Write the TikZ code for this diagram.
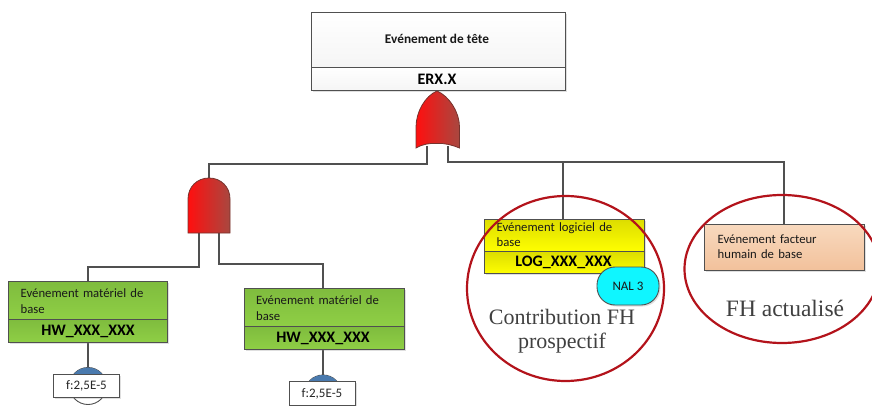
\documentclass[tikz,border=0pt]{standalone}
\usepackage{fontspec}
\setmainfont{Carlito}
\newfontfamily\serifface{Liberation Serif}
\usetikzlibrary{shadows,calc,shapes.geometric}
\definecolor{wire}{HTML}{505050}
\definecolor{ringred}{HTML}{B3131B}
\definecolor{gatered}{HTML}{FF0F0F}
\definecolor{gatedark}{HTML}{A84840}
\definecolor{greenA}{HTML}{7FBC3E}
\definecolor{greenB}{HTML}{8FCF45}
\definecolor{yelA}{HTML}{DDDD00}
\definecolor{yelB}{HTML}{FFFF00}
\definecolor{orgA}{HTML}{F8D9BE}
\definecolor{orgB}{HTML}{F2C19B}
\definecolor{blueb}{HTML}{4A7AAE}
\definecolor{nalcyan}{HTML}{0FF6FF}
\tikzset{
  softshadow/.style={drop shadow={opacity=.25,shadow xshift=1.5pt,shadow yshift=-1.5pt}},
  evbox/.style={draw=wire,line width=1.2pt,anchor=north west,inner sep=0pt,softshadow},
  greenbox/.style={evbox,top color=greenA,bottom color=greenB},
  yellowbox/.style={evbox,top color=yelA,bottom color=yelB},
  orangebox/.style={evbox,top color=orgA,bottom color=orgB},
  greybox/.style={evbox,top color=white,bottom color=gray!8},
  wirel/.style={draw=wire,line width=1.5pt},
  gate/.style={draw=gatedark!70!black,line width=.8pt,left color=gatered,right color=gatedark},
  ring/.style={draw=ringred,line width=2.2pt},
  evtxt/.style={font=\fontsize{12.7}{15.5}\selectfont,text=black!90,align=left,anchor=north west,inner sep=0pt,text width=135pt},
  idtxt/.style={font=\fontsize{16}{18}\selectfont\bfseries,text=black,inner sep=0pt},
  bigtxt/.style={font=\serifface\fontsize{22}{24}\selectfont,text=black!75,align=center,inner sep=0pt},
  ftag/.style={draw=wire,line width=.9pt,fill=white,minimum width=66pt,minimum height=23.5pt,inner sep=0pt,font=\fontsize{13}{14}\selectfont,text=black!85,softshadow},
  nalbox/.style={draw=wire,line width=.9pt,fill=nalcyan,rounded corners=18pt,minimum width=62pt,minimum height=38pt,inner sep=0pt,font=\fontsize{13}{14}\selectfont,text=black!90,softshadow},
  basec/.style={draw=wire,line width=.9pt,fill=white,circle,minimum size=37pt,inner sep=0pt},
}
\begin{document}
\begin{tikzpicture}[x=1pt,y=-1pt]
\useasboundingbox (0,0) rectangle (872,406);
\begin{scope}
\clip (0,0) rectangle (872,406);

% named gate ports
\coordinate (orL) at (427,146);
\coordinate (orR) at (448,146);
\coordinate (andT) at (209,178);
\coordinate (andL) at (199,233);
\coordinate (andR) at (219,233);

% top event
\node[greybox,minimum width=254pt,minimum height=55pt] (topA) at (310.5,12) {};
\node[greybox,minimum width=254pt,minimum height=23pt] (topB) at (310.5,67) {};
\node[font=\fontsize{13.3}{16}\selectfont\bfseries,text=black!90,inner sep=0pt] (topT) at (437,38.5) {Evénement de tête};
\node[idtxt] (topI) at (437,79) {ERX.X};

% wires
\draw[wirel] (orL) -- (427,164) -| (andT);
\draw[wirel] (orR) -- (448,162) -| (784,224) coordinate (fhT);
\draw[wirel] (563,162) -- (563,219) coordinate (logT);
\draw[wirel] (andL) -- (199,267) -| (88,281) coordinate (hwaT);
\draw[wirel] (andR) -- (219,264) -| (323,288) coordinate (hwbT);

% OR gate
\shade[gate] (437,91) .. controls (425,96) and (416,112) .. (416,127) -- (416,148)
  .. controls (423,144) and (430,143) .. (437,143.5) .. controls (445,143) and (452,145) .. (459.5,148)
  -- (459.5,127) .. controls (459.5,112) and (449,96) .. (437,91) -- cycle;
% AND gate
\shade[gate] (188,233) -- (188,199) .. controls (188,187) and (197,178) .. (209,178)
  .. controls (221,178) and (230,187) .. (230,199) -- (230,233) -- cycle;

% HW left
\node[basec] (ca) at (88,386) {};
\begin{scope}\clip (60,360) rectangle (116,386);\fill[blueb] (ca.center) circle (18.5);\end{scope}
\draw[wirel] (88,342) -- (ca.north);
\node[ftag] (fa) at (86.5,386) {f:2,5E-5};
\node[greenbox,minimum width=159pt,minimum height=38pt] (hwaA) at (8,281) {};
\node[greenbox,minimum width=159pt,minimum height=23pt] (hwaB) at (8,319) {};
\node[evtxt] at (20.5,288.5) {Evénement matériel de\\base};
\node[idtxt] at (88,331) {HW\_XXX\_XXX};

% HW right
\node[basec] (cb) at (323,393.5) {};
\begin{scope}\clip (295,368) rectangle (351,393.5);\fill[blueb] (cb.center) circle (18.5);\end{scope}
\draw[wirel] (323,349) -- (cb.north);
\node[ftag] (fb) at (322,393.5) {f:2,5E-5};
\node[greenbox,minimum width=160pt,minimum height=38pt] (hwbA) at (243.5,288) {};
\node[greenbox,minimum width=160pt,minimum height=23pt] (hwbB) at (243.5,326) {};
\node[evtxt] at (256,295.5) {Evénement matériel de\\base};
\node[idtxt] at (323,338) {HW\_XXX\_XXX};

% LOG
\node[yellowbox,minimum width=160pt,minimum height=32pt] (logA) at (483.5,219) {};
\node[yellowbox,minimum width=160pt,minimum height=22pt] (logB) at (483.5,251) {};
\node[evtxt] at (496.5,222) {Evénement logiciel de\\base};
\node[idtxt] at (563.5,262) {LOG\_XXX\_XXX};
\node[nalbox] (nal) at (628,286) {NAL 3};

% FH
\node[orangebox,minimum width=160pt,minimum height=46pt] (fhA) at (704,224) {};
\node[evtxt] at (717.5,234.5) {Evénement facteur\\humain de base};

% rings
\node[ring,draw,ellipse,minimum width=197pt,minimum height=185pt,inner sep=0pt] (ra) at (565.5,288.5) {};
\node[ring,draw,ellipse,minimum width=195pt,minimum height=148pt,inner sep=0pt] (rb) at (782,269) {};

\node[bigtxt] (ct) at (562,331) {Contribution FH\\prospectif};
\node[bigtxt,font=\serifface\fontsize{23.5}{25}\selectfont] (at) at (785,308) {FH actualisé};
\end{scope}
\end{tikzpicture}
\end{document}
